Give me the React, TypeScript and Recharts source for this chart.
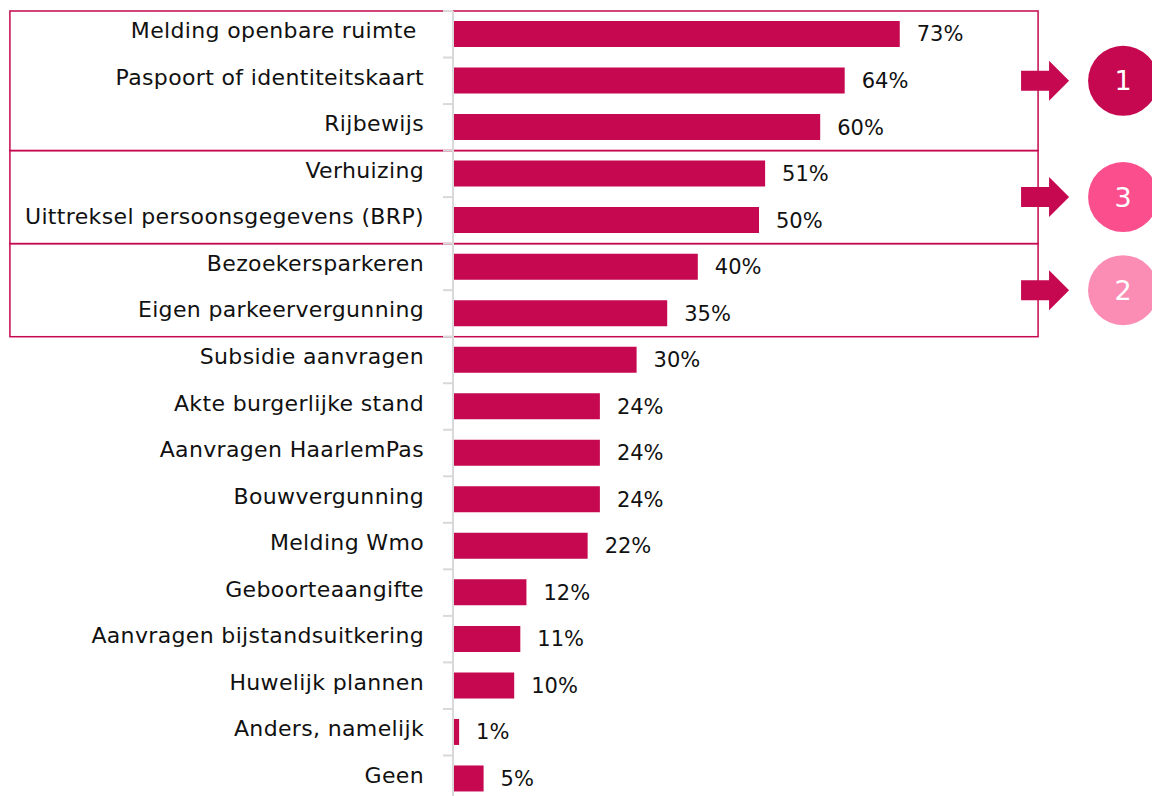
import { BarChart, Bar, XAxis, YAxis, LabelList, ReferenceArea } from "recharts";

const categories = [
  "Melding openbare ruimte ",
  "Paspoort of identiteitskaart",
  "Rijbewijs",
  "Verhuizing",
  "Uittreksel persoonsgegevens (BRP)",
  "Bezoekersparkeren",
  "Eigen parkeervergunning",
  "Subsidie aanvragen",
  "Akte burgerlijke stand",
  "Aanvragen HaarlemPas",
  "Bouwvergunning",
  "Melding Wmo",
  "Geboorteaangifte",
  "Aanvragen bijstandsuitkering",
  "Huwelijk plannen",
  "Anders, namelijk",
  "Geen",
];
const values = [73, 64, 60, 51, 50, 40, 35, 30, 24, 24, 24, 22, 12, 11, 10, 1, 5];

// groups of categories that are boxed, with the number in the circle next to them
const groupStart = ["Melding openbare ruimte ", "Verhuizing", "Bezoekersparkeren"];
const groupEnd = ["Rijbewijs", "Uittreksel persoonsgegevens (BRP)", "Eigen parkeervergunning"];
const groupNumbers = ["1", "3", "2"];
const groupColors = ["#c5084f", "#fb4f8d", "#fb8db5"];

const data = categories.map((name, i) => ({ name, value: values[i] }));

const CRIMSON = "#c5084f";
const FONT = "'DejaVu Sans', sans-serif";

const CategoryTick = (props: any) => {
  const { x, y, payload } = props;
  const off = payload?.offset ?? 23.25;
  return (
    <g>
      <line x1={x + 19} x2={x + 29} y1={y - off} y2={y - off} stroke="#d9d9d9" strokeWidth={2} />
      <text
        x={x}
        y={y}
        dy={-2}
        textAnchor="end"
        dominantBaseline="middle"
        fontFamily={FONT}
        fontSize={22}
        letterSpacing={0.35}
        fill="#111"
        style={{ whiteSpace: "pre" }}
      >
        {payload.value}
      </text>
    </g>
  );
};

const groupShape = (num: string, color: string) => (p: any) => {
  const { x, y, width, height } = p;
  const r = x + width;
  const cy = y + height / 2;
  return (
    <g>
      <rect x={x} y={y} width={width} height={height} fill="none" stroke={CRIMSON} strokeWidth={1.5} />
      <polygon
        points={`${r - 17},${cy - 10} ${r + 11},${cy - 10} ${r + 11},${cy - 20} ${r + 31},${cy} ${r + 11},${cy + 20} ${r + 11},${cy + 10} ${r - 17},${cy + 10}`}
        fill={CRIMSON}
      />
      <circle cx={r + 85} cy={cy} r={35} fill={color} />
      <text x={r + 85} y={cy} textAnchor="middle" dominantBaseline="central" fontFamily={FONT} fontSize={27} fill="#fff">
        {num}
      </text>
    </g>
  );
};

export default function App() {
  return (
    <div style={{ position: "fixed", left: 0, top: 0, width: 1152, height: 796, overflow: "hidden", background: "#fff" }}>
      <BarChart
        width={1152}
        height={802}
        data={data}
        layout="vertical"
        margin={{ top: 11, right: 87, left: 0, bottom: 0 }}
        barCategoryGap={0}
      >
        <XAxis type="number" domain={[0, 100]} hide />
        <YAxis
          type="category"
          dataKey="name"
          width={453}
          axisLine={{ stroke: "#d9d9d9", strokeWidth: 2 }}
          tickLine={false}
          tickSize={0}
          tickMargin={29}
          interval={0}
          tick={<CategoryTick />}
        />
        {groupStart.map((g, i) => (
          <ReferenceArea
            key={g}
            y1={g}
            y2={groupEnd[i]}
            x1={-72.4}
            x2={95.6}
            ifOverflow="visible"
            shape={groupShape(groupNumbers[i], groupColors[i])}
          />
        ))}
        <Bar dataKey="value" fill={CRIMSON} barSize={26} isAnimationActive={false}>
          <LabelList
            dataKey="value"
            position="right"
            offset={17}
            formatter={(v: any) => `${v}%`}
            style={{ fontFamily: FONT, fontSize: 21, fill: "#111" }}
          />
        </Bar>
      </BarChart>
    </div>
  );
}
